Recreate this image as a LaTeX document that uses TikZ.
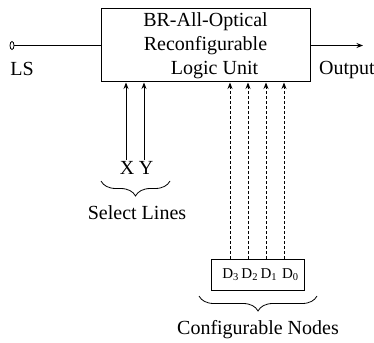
\documentclass[tikz,border=0pt]{standalone}
\usepackage{fontspec}
\setmainfont{Liberation Serif}
\usetikzlibrary{arrows.meta,decorations.pathreplacing,shapes.geometric}
\begin{document}
\begin{tikzpicture}[x=1pt,y=1pt,
  lbl/.style={font=\fontsize{20}{24}\selectfont, inner sep=0pt},
  arr/.style={line width=0.8pt,-{Stealth[length=6.5pt,width=5pt]}},
  dsh/.style={arr, dash pattern=on 3pt off 2pt},
  brc/.style={decorate, line width=0.8pt, decoration={brace,mirror,amplitude=15pt}}]
\useasboundingbox (0,0) rectangle (374,-342);
% main box
\node (box) [draw, line width=1pt, minimum width=209pt, minimum height=73pt, inner sep=0pt,
  align=center, font=\fontsize{20}{24}\selectfont] at (205.5,-45.5)
  {BR-All-Optical\\Reconfigurable\\\hspace*{18pt}Logic Unit};
% LS input
\node (ls) [draw, ellipse, line width=0.8pt, minimum width=4pt, minimum height=8pt, inner sep=0pt] at (12,-45.5) {};
\draw[line width=0.8pt] (ls.east) -- (box.west);
\node (lslbl) [lbl] at (22,-69) {LS};
% output
\coordinate (out) at (363,-45.5);
\draw[arr] (box.east) -- (out);
\node (outlbl) [lbl, anchor=west] at (319,-70) {Output};
% select lines
\node (xl) [lbl, anchor=north] at (127,-161) {X};
\node (yl) [lbl, anchor=north] at (146,-161) {Y};
\coordinate (xs) at (126,-160);
\coordinate (ys) at (144,-160);
\draw[arr] (xs) -- (box.south -| xs);
\draw[arr] (ys) -- (box.south -| ys);
\coordinate (b1a) at (101,-181);
\coordinate (b1b) at (170,-181);
\draw[brc] (b1a) -- (b1b);
\node (sel) [lbl] at (137,-213) {Select Lines};
% configurable nodes
\node (dbox) [draw, line width=0.8pt, minimum width=93pt, minimum height=31pt, inner sep=0pt,
  font=\fontsize{15}{18}\selectfont] at (257.5,-274.5)
  {\hspace*{6pt}D\textsubscript{3}\,D\textsubscript{2}\,D\textsubscript{1}\,\,D\textsubscript{0}};
\coordinate (d3) at (230,0);
\coordinate (d2) at (248,0);
\coordinate (d1) at (266,0);
\coordinate (d0) at (284,0);
\foreach \d in {d3,d2,d1,d0}
  \draw[dsh] (dbox.north -| \d) -- (box.south -| \d);
\coordinate (b2a) at (199,-296);
\coordinate (b2b) at (317,-296);
\draw[brc] (b2a) -- (b2b);
\node (cfg) [lbl] at (258,-330) {Configurable Nodes};
\end{tikzpicture}
\end{document}
